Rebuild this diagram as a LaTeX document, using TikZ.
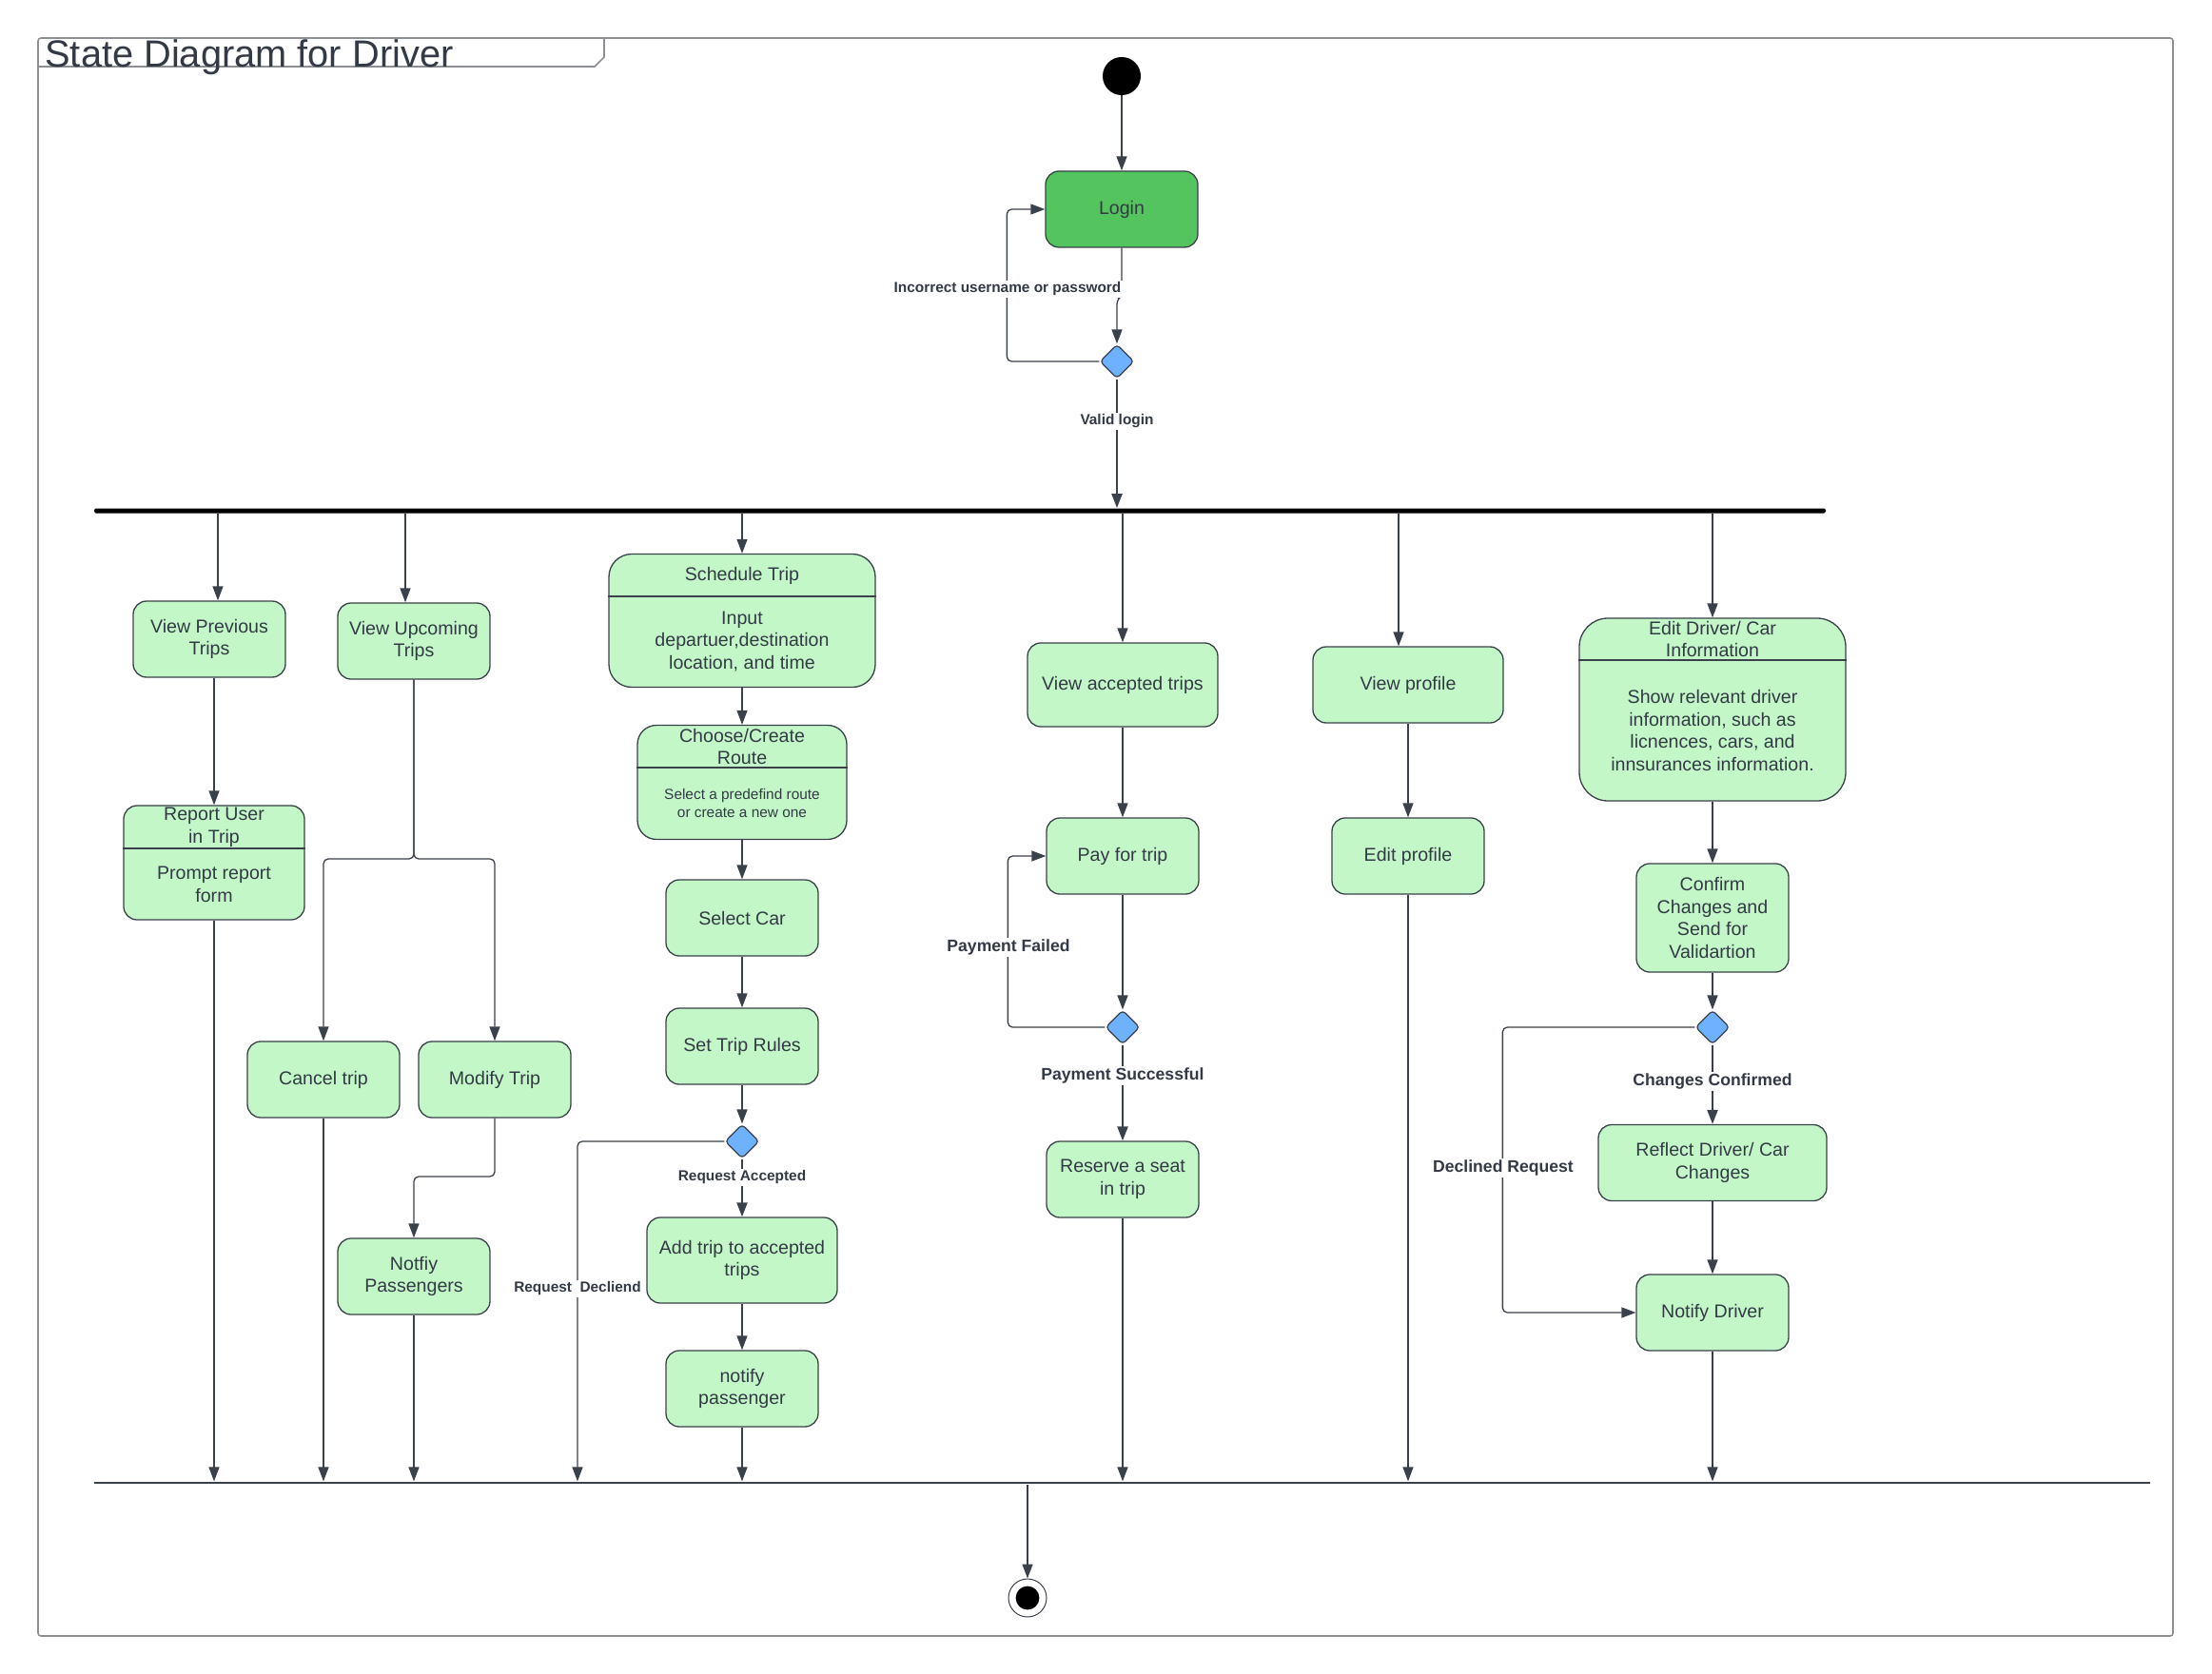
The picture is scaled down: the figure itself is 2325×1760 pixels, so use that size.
\documentclass[tikz,border=0pt]{standalone}
\usepackage{fontspec}
\setmainfont{Liberation Sans}
\usetikzlibrary{arrows.meta,shapes.geometric,calc}
\definecolor{edge}{HTML}{3A414A}
\definecolor{stategreen}{HTML}{C3F7C8}
\definecolor{logingreen}{HTML}{54C45E}
\definecolor{decblue}{HTML}{6DB1FF}
\definecolor{framegray}{HTML}{8C9096}
\definecolor{ink}{HTML}{333A45}

\begin{document}
\begin{tikzpicture}[x=0.5pt,y=-0.5pt,
  state/.style={draw=edge, fill=stategreen, line width=0.65pt, rounded corners=7pt,
    minimum width=80pt, minimum height=40pt, inner sep=0pt, align=center,
    text=ink, font=\fontsize{9.8}{11.9}\selectfont},
  txt/.style={inner sep=0pt, align=center, text=ink, font=\fontsize{9.8}{11.9}\selectfont},
  smalltxt/.style={inner sep=0pt, align=center, text=ink, font=\fontsize{7.7}{9.35}\selectfont},
  choice/.style={diamond, draw=edge, fill=decblue, line width=0.6pt, minimum width=18pt,
    minimum height=18pt, inner sep=0pt, rounded corners=2pt},
  flow/.style={draw=edge, line width=0.65pt, -{Triangle[length=7.5pt,width=5.5pt]}, rounded corners=2.5pt},
  strong/.style={flow, line width=1.1pt},
  guard/.style={fill=white, inner sep=1pt, text=ink, font=\bfseries\fontsize{7.7}{9}\selectfont},
  guardbig/.style={guard, font=\bfseries\fontsize{8.8}{10}\selectfont},
  divider/.style={draw=edge, line width=0.65pt},
]
\useasboundingbox (0,0) rectangle (2325,1760);

% outer frame with its name tab
\draw[framegray, line width=0.8pt, rounded corners=1.5pt] (40,40) rectangle (2284,1720);
\draw[framegray, line width=0.8pt] (40,70) -- (625,70) -- (635,60) -- (635,40);
\node[anchor=base west, inner sep=0pt, text=ink, font=\fontsize{19.9}{24}\selectfont] (title) at (47,71) {State Diagram for Driver};

% start, login and its check
\node[circle, fill=black, minimum size=20pt, inner sep=0pt] (start) at (1179,80) {};
\node[state, fill=logingreen] (login) at (1179,220) {Login};
\node[choice] (d1) at (1174,380) {};
\node[fill=black, minimum width=910pt, minimum height=2.5pt, inner sep=0pt, rounded corners=0.8pt] (fork) at (1009,537) {};

% column 1: previous trips
\node[state] (vprev) at (220,672) {View Previous\\Trips};
\node[state, minimum width=95pt, minimum height=60pt] (report) at (225,907) {};
\draw[divider] (report.west |- 0,892) -- (report.east |- 0,892);
\node[txt] (reportT) at (225,869.5) {Report User\\in Trip};
\node[txt] (reportB) at (225,929.5) {Prompt report\\form};

% column 2: upcoming trips
\node[state] (vup) at (435,674) {View Upcoming\\Trips};
\node[state] (cancel) at (340,1135) {Cancel trip};
\node[state] (modify) at (520,1135) {Modify Trip};
\node[state] (notifyp) at (435,1342) {Notfiy\\Passengers};
\coordinate (split) at (435,903);
\coordinate (modjog) at (520,1237);

% column 3: scheduling
\node[state, minimum width=140pt, minimum height=70pt, rounded corners=12pt] (sched) at (780,652.5) {};
\draw[divider] (sched.west |- 0,627) -- (sched.east |- 0,627);
\node[txt] (schedT) at (780,605) {Schedule Trip};
\node[txt] (schedB) at (780,674.5) {Input\\departuer,destination\\location, and time};
\node[state, minimum width=110pt, minimum height=60pt, rounded corners=10pt] (choose) at (780,822.5) {};
\draw[divider] (choose.west |- 0,807) -- (choose.east |- 0,807);
\node[txt] (chooseT) at (780,785) {Choose/Create\\Route};
\node[smalltxt] (chooseB) at (780,844.5) {Select a predefind route\\or create a new one};
\node[state] (selcar) at (780,965) {Select Car};
\node[state] (rules) at (780,1100) {Set Trip Rules};
\node[choice] (d2) at (780,1200) {};
\node[state, minimum width=100pt, minimum height=45pt] (addtrip) at (780,1325) {Add trip to accepted\\trips};
\node[state] (notpass) at (780,1460) {notify\\passenger};

% column 4: accepted trips
\node[state, minimum width=100pt, minimum height=44pt] (vacc) at (1180,720) {View accepted trips};
\node[state] (pay) at (1180,900) {Pay for trip};
\node[choice] (d3) at (1180,1080) {};
\node[state] (reserve) at (1180,1240) {Reserve a seat\\in trip};

% column 5: profile
\node[state, minimum width=100pt] (vprof) at (1480,720) {View profile};
\node[state] (eprof) at (1480,900) {Edit profile};

% column 6: driver / car information
\node[state, minimum width=140pt, minimum height=96pt, rounded corners=15pt] (edrv) at (1800,746) {};
\draw[divider] (edrv.west |- 0,694) -- (edrv.east |- 0,694);
\node[txt] (edrvT) at (1800,672) {Edit Driver/ Car\\Information};
\node[txt] (edrvB) at (1800,768) {Show relevant driver\\information, such as\\licnences, cars, and\\innsurances information.};
\node[state, minimum height=57pt] (confirm) at (1800,965) {Confirm\\Changes and\\Send for\\Validartion};
\node[choice] (d4) at (1800,1080) {};
\node[state, minimum width=120pt] (reflect) at (1800,1222.5) {Reflect Driver/ Car\\Changes};
\node[state] (notdrv) at (1800,1380) {Notify Driver};

% join bar and final state
\node[fill=edge, minimum width=1080.5pt, minimum height=1.2pt, inner sep=0pt] (join) at (1179.5,1559) {};
\node[circle, draw=edge, line width=0.5pt, minimum size=20pt, inner sep=0pt] (final) at (1080,1680) {};
\fill[black] (final.center) circle (6.2pt);

% login flow
\draw[flow] (start) -- (login);
\draw[flow] (login.south) -- (login.south |- 0,311) -- (d1.north |- 0,315) -- (d1.north);
\draw[flow] (d1.west) -| ([xshift=-20pt]login.west) -- (login.west);
\draw[strong] (d1.south) -- (d1.south |- fork.north);

% fork outputs
\draw[flow] ([xshift=4.5pt]vprev.north |- fork.south) -- ([xshift=4.5pt]vprev.north);
\draw[flow] ([xshift=-4.5pt]vup.north |- fork.south) -- ([xshift=-4.5pt]vup.north);
\draw[flow] (sched.north |- fork.south) -- (sched.north);
\draw[flow] (vacc.north |- fork.south) -- (vacc.north);
\draw[flow] ([xshift=-5pt]vprof.north |- fork.south) -- ([xshift=-5pt]vprof.north);
\draw[flow] (edrv.north |- fork.south) -- (edrv.north);

% column 1
\draw[flow] (report.north |- vprev.south) -- (report.north);
\draw[flow] (report.south) -- (report.south |- join.north);

% column 2
\draw[flow] (vup.south) -- (split) -| (cancel.north);
\draw[flow] (vup.south) -- (split) -| (modify.north);
\draw[flow] (cancel.south) -- (cancel.south |- join.north);
\draw[flow] (modify.south) -- (modjog) -| (notifyp.north);
\draw[flow] (notifyp.south) -- (notifyp.south |- join.north);

% column 3
\draw[flow] (sched) -- (choose);
\draw[flow] (choose) -- (selcar);
\draw[flow] (selcar) -- (rules);
\draw[flow] (rules) -- (d2);
\draw[strong] (d2) -- (addtrip);
\draw[flow] (addtrip) -- (notpass);
\draw[flow] (notpass.south) -- (notpass.south |- join.north);
\draw[flow] (d2.west) -| (join.north -| 607,0);

% column 4
\draw[flow] (vacc) -- (pay);
\draw[flow] (pay) -- (d3);
\draw[strong] (d3) -- (reserve);
\draw[flow] (d3.west) -| ([xshift=-20pt]pay.west) -- (pay.west);
\draw[flow] (reserve.south) -- (reserve.south |- join.north);

% column 5
\draw[flow] (vprof) -- (eprof);
\draw[flow] (eprof.south) -- (eprof.south |- join.north);

% column 6
\draw[flow] (edrv) -- (confirm);
\draw[flow] (confirm) -- (d4);
\draw[strong] (d4) -- (reflect);
\draw[flow] (reflect) -- (notdrv);
\draw[flow] (d4.west) -| ([xshift=-70pt]notdrv.west) -- (notdrv.west);
\draw[flow] (notdrv.south) -- (notdrv.south |- join.north);

% to the final state
\draw[flow] (final.north |- join.south) -- (final.north);

% guard labels
\node[guard] (gIncorrect) at (1059,304) {Incorrect username or password};
\node[guard] (gValid) at (1174,443) {Valid login};
\node[guard] (gAccepted) at (780,1238) {Request Accepted};
\node[guard] (gDecliend) at (607,1355) {Request\ \ Decliend};
\node[guardbig] (gFailed) at (1060,996) {Payment Failed};
\node[guardbig] (gPaid) at (1180,1131) {Payment Successful};
\node[guardbig] (gConfirmed) at (1800,1137) {Changes Confirmed};
\node[guardbig] (gDeclined) at (1580,1228) {Declined Request};
\end{tikzpicture}
\end{document}
